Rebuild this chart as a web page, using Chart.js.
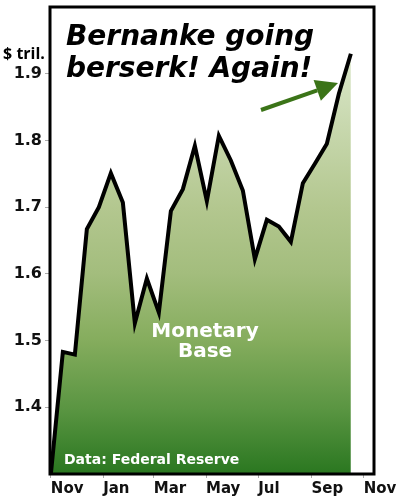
<!DOCTYPE html>
<html>
<head>
<meta charset="utf-8">
<script src="https://cdn.jsdelivr.net/npm/chart.js@4/dist/chart.umd.min.js"></script>
<style>
  html, body { margin: 0; padding: 0; background: #fff; }
  #wrap { width: 400px; height: 499px; position: relative; }
</style>
</head>
<body>
<div id="wrap"><canvas id="baseChart"></canvas></div>
<script>
// days since Nov 1, one reading every two weeks
const days = [0, 14, 28, 42, 56, 70, 84, 98, 112, 126, 140, 154, 168, 182,
  196, 210, 224, 238, 252, 266, 280, 294, 308, 322, 336, 350];
const baseTrillions = [1.30, 1.483, 1.479, 1.667, 1.700, 1.751, 1.707, 1.526,
  1.593, 1.542, 1.694, 1.727, 1.792, 1.709, 1.807, 1.770, 1.725, 1.622,
  1.681, 1.671, 1.648, 1.736, 1.765, 1.795, 1.870, 1.930];

const monthLabels = ["Nov", "Jan", "Mar", "May", "Jul", "Sep", "Nov"];
const monthDays = [0, 61, 120, 181, 242, 304, 365];
const yTicks = [1.4, 1.5, 1.6, 1.7, 1.8, 1.9];

const boldFont = "'DejaVu Sans', Verdana, sans-serif";

function areaGradient(ctx, area) {
  const g = ctx.createLinearGradient(0, area.top, 0, area.bottom);
  g.addColorStop(0, "#eaf1e0");
  g.addColorStop(0.12, "#d8e5c6");
  g.addColorStop(0.43, "#b3c78f");
  g.addColorStop(0.57, "#a3bd7d");
  g.addColorStop(0.71, "#86ad5e");
  g.addColorStop(0.86, "#5a9542");
  g.addColorStop(1, "#2a7720");
  return g;
}

const decorations = {
  id: "decorations",
  afterDatasetsDraw(chart) {
    const { ctx, chartArea: a } = chart;
    ctx.save();

    // frame
    ctx.strokeStyle = "#000";
    ctx.lineWidth = 3;
    ctx.strokeRect(a.left, a.top, a.right - a.left, a.bottom - a.top);

    // headline
    ctx.fillStyle = "#000";
    ctx.font = `italic bold 28px ${boldFont}`;
    ctx.textAlign = "left";
    ctx.textBaseline = "alphabetic";
    ctx.fillText("Bernanke going", 66, 45);
    ctx.fillText("berserk! Again!", 66, 77);

    // unit label
    ctx.font = "bold 16px 'Open Sans', 'Liberation Sans', sans-serif";
    ctx.textAlign = "center";
    ctx.fillText("$ tril.", 24, 59);

    // series label
    ctx.fillStyle = "#fff";
    ctx.font = `bold 20px ${boldFont}`;
    ctx.fillText("Monetary", 205, 337);
    ctx.fillText("Base", 205, 357);

    ctx.font = `bold 14px ${boldFont}`;
    ctx.textAlign = "left";
    ctx.fillText("Data: Federal Reserve", 64, 464);

    // arrow
    const tail = [261, 110], tip = [338, 83];
    const ang = Math.atan2(tip[1] - tail[1], tip[0] - tail[0]);
    const headLen = 22, headHalf = 11;
    const bx = tip[0] - headLen * Math.cos(ang);
    const by = tip[1] - headLen * Math.sin(ang);
    ctx.strokeStyle = "#3b7418";
    ctx.fillStyle = "#3b7418";
    ctx.lineWidth = 4;
    ctx.beginPath();
    ctx.moveTo(tail[0], tail[1]);
    ctx.lineTo(bx, by);
    ctx.stroke();
    ctx.beginPath();
    ctx.moveTo(tip[0], tip[1]);
    ctx.lineTo(bx + headHalf * Math.sin(ang), by - headHalf * Math.cos(ang));
    ctx.lineTo(bx - headHalf * Math.sin(ang), by + headHalf * Math.cos(ang));
    ctx.closePath();
    ctx.fill();

    ctx.restore();
  }
};

const ctx = document.getElementById("baseChart").getContext("2d");

new Chart(ctx, {
  type: "line",
  data: {
    datasets: [{
      label: "Monetary Base",
      data: days.map((d, i) => ({ x: d, y: baseTrillions[i] })),
      borderColor: "#000",
      borderWidth: 4,
      pointRadius: 0,
      tension: 0,
      fill: "start",
      backgroundColor(context) {
        const area = context.chart.chartArea;
        if (!area) return "#a3bd7d";
        return areaGradient(context.chart.ctx, area);
      }
    }]
  },
  options: {
    responsive: true,
    maintainAspectRatio: false,
    animation: false,
    layout: { padding: { left: 0, right: 26, top: 7, bottom: 0 } },
    plugins: {
      legend: { display: false },
      tooltip: { enabled: false }
    },
    scales: {
      x: {
        type: "linear",
        min: -1,
        max: 377,
        afterBuildTicks(scale) {
          scale.ticks = monthDays.map(v => ({ value: v }));
        },
        afterFit(scale) {
          scale.height = 25;
          scale.paddingLeft = 0;
          scale.paddingRight = 0;
        },
        ticks: {
          align: "start",
          autoSkip: false,
          maxRotation: 0,
          padding: 2,
          color: "#111",
          font: { family: boldFont, weight: "bold", size: 15 },
          callback(value) {
            const i = monthDays.indexOf(value);
            return i >= 0 ? monthLabels[i] : "";
          }
        },
        grid: {
          drawOnChartArea: false,
          drawTicks: true,
          tickLength: 4,
          color: "#aaa"
        },
        border: { display: false }
      },
      y: {
        min: 1.3,
        max: 2.0,
        afterBuildTicks(scale) {
          scale.ticks = yTicks.map(v => ({ value: v }));
        },
        afterFit(scale) {
          scale.width = 50;
          scale.paddingTop = 0;
          scale.paddingBottom = 0;
        },
        ticks: {
          padding: 3,
          color: "#111",
          font: { family: boldFont, weight: "bold", size: 16 },
          callback: v => v.toFixed(1)
        },
        grid: {
          drawOnChartArea: false,
          drawTicks: true,
          tickLength: 5,
          color: "#aaa"
        },
        border: { display: false }
      }
    }
  },
  plugins: [decorations]
});
</script>
</body>
</html>
